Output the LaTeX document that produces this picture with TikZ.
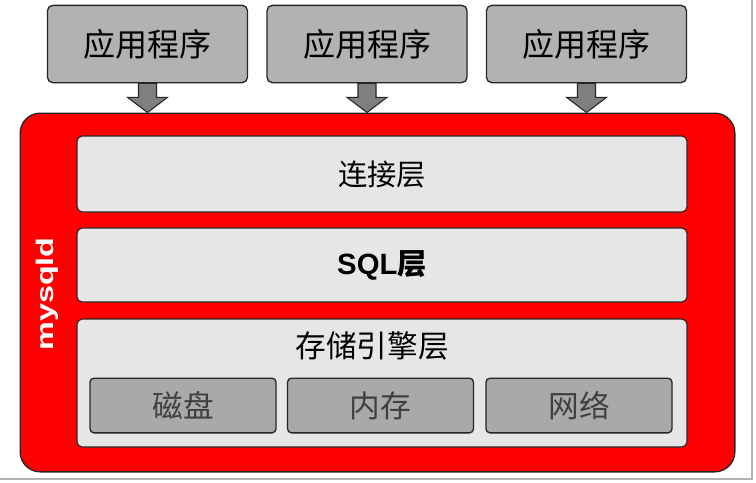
\documentclass[tikz,border=0pt]{standalone}
\usepackage{fontspec}
\setmainfont{Liberation Sans}
\newfontfamily\cjk{Noto Sans CJK SC}
\usetikzlibrary{calc}
\definecolor{appgray}{HTML}{B2B2B2}
\definecolor{arrowgray}{HTML}{7F7F7F}
\definecolor{layergray}{HTML}{E6E6E6}
\definecolor{subgray}{HTML}{A9A9A9}
\definecolor{textgray}{HTML}{404040}
\definecolor{edgegray}{HTML}{262626}
\tikzset{
  appbox/.style={draw=edgegray, line width=1pt, fill=appgray, rounded corners=4pt,
    minimum width=150pt, minimum height=58pt, inner sep=0pt,
    font=\cjk\fontsize{24}{26}\selectfont},
  layerbox/.style={draw=edgegray, line width=0.8pt, fill=layergray, rounded corners=4pt,
    minimum width=457.5pt, inner sep=0pt},
  subbox/.style={draw=edgegray, line width=1pt, fill=subgray, rounded corners=3pt,
    minimum width=139.5pt, minimum height=41pt, inner sep=0pt, text=textgray,
    font=\cjk\fontsize{23}{25}\selectfont},
  blockarrow/.style={draw=edgegray, line width=0.8pt, fill=arrowgray, line join=miter}
}
\begin{document}
\begin{tikzpicture}[x=0.75pt, y=-0.75pt]
  % frame and background
  \useasboundingbox (0,0) rectangle (756,482);
  \fill[white] (0,0) rectangle (756,482);
  \draw[gray!60, line width=1pt] (752,0) -- (752,479) -- (0,479);
  % applications
  \node[appbox] (app1) at (147.5,44) {应用程序};
  \node[appbox] (app2) at (367,44) {应用程序};
  \node[appbox] (app3) at (586.5,44) {应用程序};
  % mysqld server
  \node[draw=edgegray, line width=1pt, fill=red, rounded corners=15pt,
    minimum width=536pt, minimum height=269pt] (mysqld) at (377.5,292.5) {};
  \node[rotate=90, text=white, font=\bfseries\fontsize{18}{20}\selectfont]
    (label) at (47,294) {\scalebox{1.35}[1]{mysqld}};
  % arrows into the server
  \foreach \a in {app1,app2,app3}{
    \draw[blockarrow] ($(\a.south)+(-9,0)$) -- ($(\a.south)+(9,0)$)
      -- ($(\a.south)+(9,14)$) -- ($(\a.south)+(20,14)$)
      -- ($(\a.south |- mysqld.north)$) -- ($(\a.south)+(-20,14)$)
      -- ($(\a.south)+(-9,14)$) -- cycle;
  }
  % layers
  \node[layerbox, minimum height=57pt, font=\cjk\fontsize{22}{24}\selectfont]
    (conn) at (382,174) {连接层};
  \node[layerbox, minimum height=55.5pt, font=\bfseries\fontsize{22}{24}\selectfont]
    (sql) at (382,265) {SQL{\cjk 层}};
  \node[layerbox, minimum height=96pt] (engine) at (382,383) {};
  \node[font=\cjk\fontsize{23}{25}\selectfont] (enginelabel) at (372,346) {存储引擎层};
  % storage media
  \node[subbox] (disk) at (183,405.5) {磁盘};
  \node[subbox] (memory) at (380.5,405.5) {内存};
  \node[subbox] (network) at (579,405.5) {网络};
\end{tikzpicture}
\end{document}
